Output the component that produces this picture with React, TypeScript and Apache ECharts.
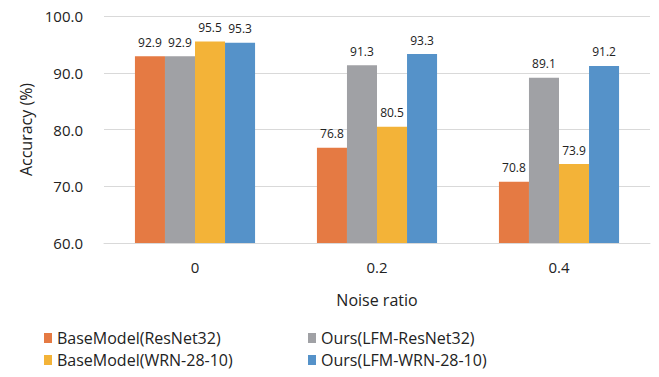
import React, { useEffect, useRef } from "react";
import * as echarts from "echarts";

// Noise ratios on the x axis
const categories = ["0", "0.2", "0.4"];

// Test accuracy (%) of each model at each noise ratio
const baseResNet32 = [92.9, 76.8, 70.8];
const oursResNet32 = [92.9, 91.3, 89.1];
const baseWRN = [95.5, 80.5, 73.9];
const oursWRN = [95.3, 93.3, 91.2];

const seriesNames = [
  "BaseModel(ResNet32)",
  "Ours(LFM-ResNet32)",
  "BaseModel(WRN-28-10)",
  "Ours(LFM-WRN-28-10)",
];
const seriesColors = ["#E57A43", "#A0A1A5", "#F3B338", "#5592C9"];

// Legend slots: two columns, two rows
const legendLeft = [44, 308, 44, 308];
const legendTop = [328, 328, 350, 350];

const FONT = "'Open Sans', 'Noto Sans', sans-serif";

export default function App() {
  const ref = useRef<HTMLDivElement>(null);

  useEffect(() => {
    if (!ref.current) return;
    const chart = echarts.init(ref.current, null, { renderer: "svg" });
    const values = [baseResNet32, oursResNet32, baseWRN, oursWRN];

    chart.setOption({
      animation: false,
      backgroundColor: "#ffffff",
      textStyle: { fontFamily: FONT, color: "#333" },
      grid: { left: 104, right: 9, top: 16, bottom: 134 },
      legend: seriesNames.map((name, i) => ({
        data: [name],
        left: legendLeft[i],
        top: legendTop[i],
        padding: 0,
        itemWidth: 8,
        itemHeight: 10,
        itemGap: 0,
        icon: "rect",
        textStyle: { fontFamily: FONT, fontSize: 16, color: "#222", lineHeight: 20 },
      })),
      xAxis: {
        type: "category",
        data: categories,
        name: "Noise ratio",
        nameLocation: "middle",
        nameGap: 49,
        nameTextStyle: { fontFamily: FONT, fontSize: 16, color: "#222" },
        axisLine: { lineStyle: { color: "#d9d9d9", width: 1 } },
        axisTick: { show: false },
        axisLabel: { margin: 16, fontFamily: FONT, fontSize: 15, color: "#222" },
      },
      yAxis: {
        type: "value",
        min: 60,
        max: 100,
        interval: 10,
        name: "Accuracy (%)",
        nameLocation: "middle",
        nameGap: 69,
        nameTextStyle: { fontFamily: FONT, fontSize: 16, color: "#222" },
        axisLine: { show: false },
        axisTick: { show: false },
        axisLabel: {
          margin: 21,
          fontFamily: FONT,
          fontSize: 15,
          color: "#222",
          formatter: (v: number) => v.toFixed(1),
        },
        splitLine: { lineStyle: { color: "#d9d9d9", width: 1 } },
      },
      series: seriesNames.map((name, i) => ({
        name,
        type: "bar",
        data: values[i],
        barGap: "0%",
        barCategoryGap: "34%",
        itemStyle: { color: seriesColors[i] },
        label: {
          show: true,
          position: "top",
          distance: 8,
          fontFamily: FONT,
          fontSize: 12,
          color: "#222",
          formatter: (p: any) => Number(p.value).toFixed(1),
        },
      })),
    });

    return () => chart.dispose();
  }, []);

  return (
    <div
      ref={ref}
      style={{ position: "fixed", left: 0, top: 0, width: 659, height: 377 }}
    />
  );
}
